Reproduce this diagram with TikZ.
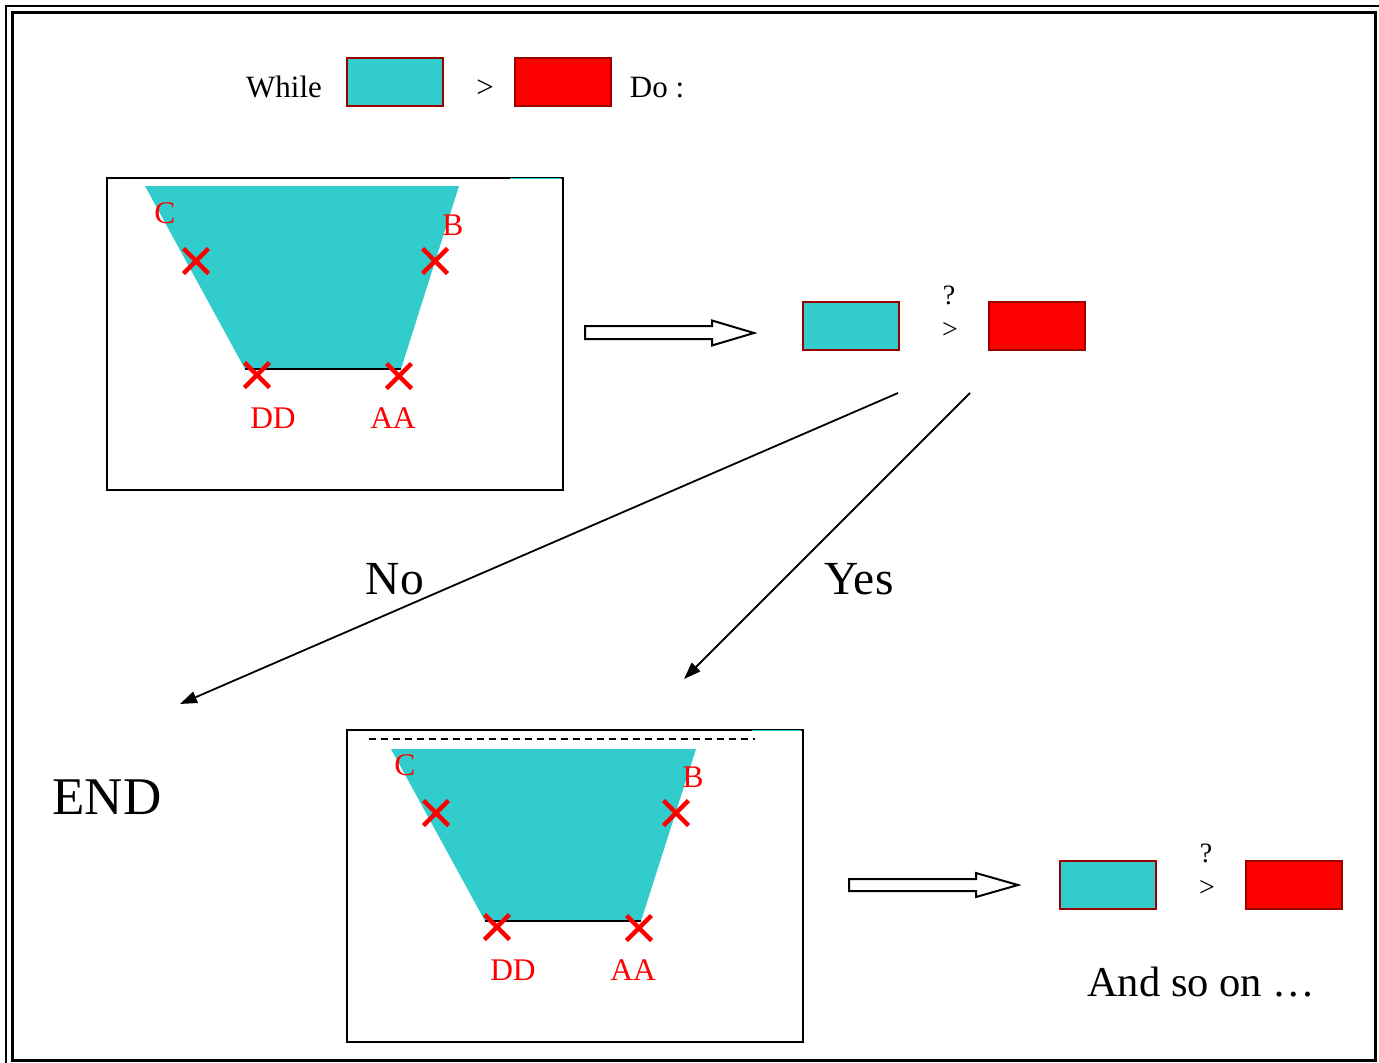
\documentclass[tikz,border=0pt]{standalone}
\usepackage{fontspec}
\setmainfont{Liberation Serif}
\usetikzlibrary{arrows.meta}
\definecolor{tq}{HTML}{33CCCC}
\definecolor{dred}{HTML}{990000}
\definecolor{rd}{HTML}{FF0000}
\newcommand\xcross[1]{\draw[xmk] (#1) +(-12.5,-12.5) -- +(12.5,12.5) +(-12.5,12.5) -- +(12.5,-12.5);}
\begin{document}
\begin{tikzpicture}[x=1pt,y=-1pt,
  cbox/.style={draw=dred, fill=tq, line width=1.5pt, minimum width=96pt, minimum height=48pt, inner sep=0pt, anchor=north west},
  rbox/.style={draw=dred, fill=rd, line width=1.5pt, minimum width=96pt, minimum height=48pt, inner sep=0pt, anchor=north west},
  panel/.style={draw, line width=1.8pt, minimum width=456pt, minimum height=312pt, inner sep=0pt, anchor=north west},
  xmk/.style={draw=rd, line width=4.4pt},
  txt/.style={inner sep=0pt, anchor=base, font=\fontsize{31}{36}\selectfont},
  lbl/.style={inner sep=0pt, anchor=base, text=rd, font=\fontsize{31.5}{36}\selectfont},
  sm/.style={inner sep=0pt, anchor=base, font=\fontsize{28}{32}\selectfont},
  big/.style={inner sep=0pt, anchor=base, font=\fontsize{47.5}{52}\selectfont},
  blk/.style={draw, line width=2pt, fill=white, line join=miter},
  con/.style={line width=1.8pt, -{Triangle[length=17pt,width=12pt]}}
]
\useasboundingbox (0,0) rectangle (1379,1063);
\fill[white] (0,0) rectangle (1379,1063);
% frame
\draw[line width=2pt] (6,6) rectangle (1400,1090);
\draw[line width=3pt] (12,12) rectangle (1375,1060);

% top row
\node[txt] (while) at (284,97) {While};
\node[cbox] (c0) at (346,57) {};
\node[txt] (gt0) at (485,97) {>};
\node[rbox] (r0) at (514,57) {};
\node[txt] (do) at (657,97) {Do :};

% panel 1
\fill[tq] (145,186) -- (459,186) -- (401,369) -- (245,369) -- cycle;
\node[panel] (p1) at (106,177) {};
\draw[tq, line width=1.5pt] (510,178.5) -- (561,178.5);
\draw[line width=2.2pt] (245,369) -- (401,369);
\xcross{196,261}
\xcross{435,261}
\xcross{257,375}
\xcross{399,376}
\node[lbl] (C1) at (165,223) {C};
\node[lbl] (B1) at (453,235) {B};
\node[lbl] (DD1) at (273,428) {DD};
\node[lbl] (AA1) at (393,428) {AA};

% block arrow 1
\draw[blk] (585,326) -- (712,326) -- (712,320.5) -- (754,333) -- (712,345.5) -- (712,339) -- (585,339) -- cycle;

% middle comparison
\node[cbox] (c1) at (802,301) {};
\node[rbox] (r1) at (988,301) {};
\node[sm] (q1) at (949,304) {?};
\node[sm] (gt1) at (950,338) {>};

% decision arrows
\coordinate (noS) at (898,393);
\coordinate (noE) at (180,704);
\coordinate (yesS) at (970,393);
\coordinate (yesE) at (684,679);
\draw[con] (noS) -- (noE);
\draw[con] (yesS) -- (yesE);
\node[big] (no) at (395,594) {No};
\node[big] (yes) at (859,594) {Yes};
\node[inner sep=0pt, anchor=base, font=\fontsize{53}{58}\selectfont] (end) at (107,814) {END};

% panel 2
\fill[tq] (391,749) -- (696,749) -- (641,921) -- (485,921) -- cycle;
\node[panel] (p2) at (346,729) {};
\draw[tq, line width=1.5pt] (752,730.5) -- (801,730.5);
\draw[line width=1.3pt, dash pattern=on 7pt off 5pt] (369,739) -- (755,739);
\draw[line width=2.2pt] (485,921) -- (641,921);
\xcross{436,813}
\xcross{676,813}
\xcross{497,927}
\xcross{639,928}
\node[lbl] (C2) at (405,775) {C};
\node[lbl] (B2) at (693,787) {B};
\node[lbl] (DD2) at (513,980) {DD};
\node[lbl] (AA2) at (633,980) {AA};

% block arrow 2
\draw[blk] (849,879) -- (976,879) -- (976,873) -- (1018,885) -- (976,897) -- (976,891) -- (849,891) -- cycle;

% bottom comparison
\node[cbox] (c2) at (1059,860) {};
\node[rbox] (r2) at (1245,860) {};
\node[sm] (q2) at (1206,862) {?};
\node[sm] (gt2) at (1207,896) {>};

\node[inner sep=0pt, anchor=base west, font=\fontsize{42.5}{46}\selectfont] (soon) at (1087,996) {And so on …};
\end{tikzpicture}
\end{document}
